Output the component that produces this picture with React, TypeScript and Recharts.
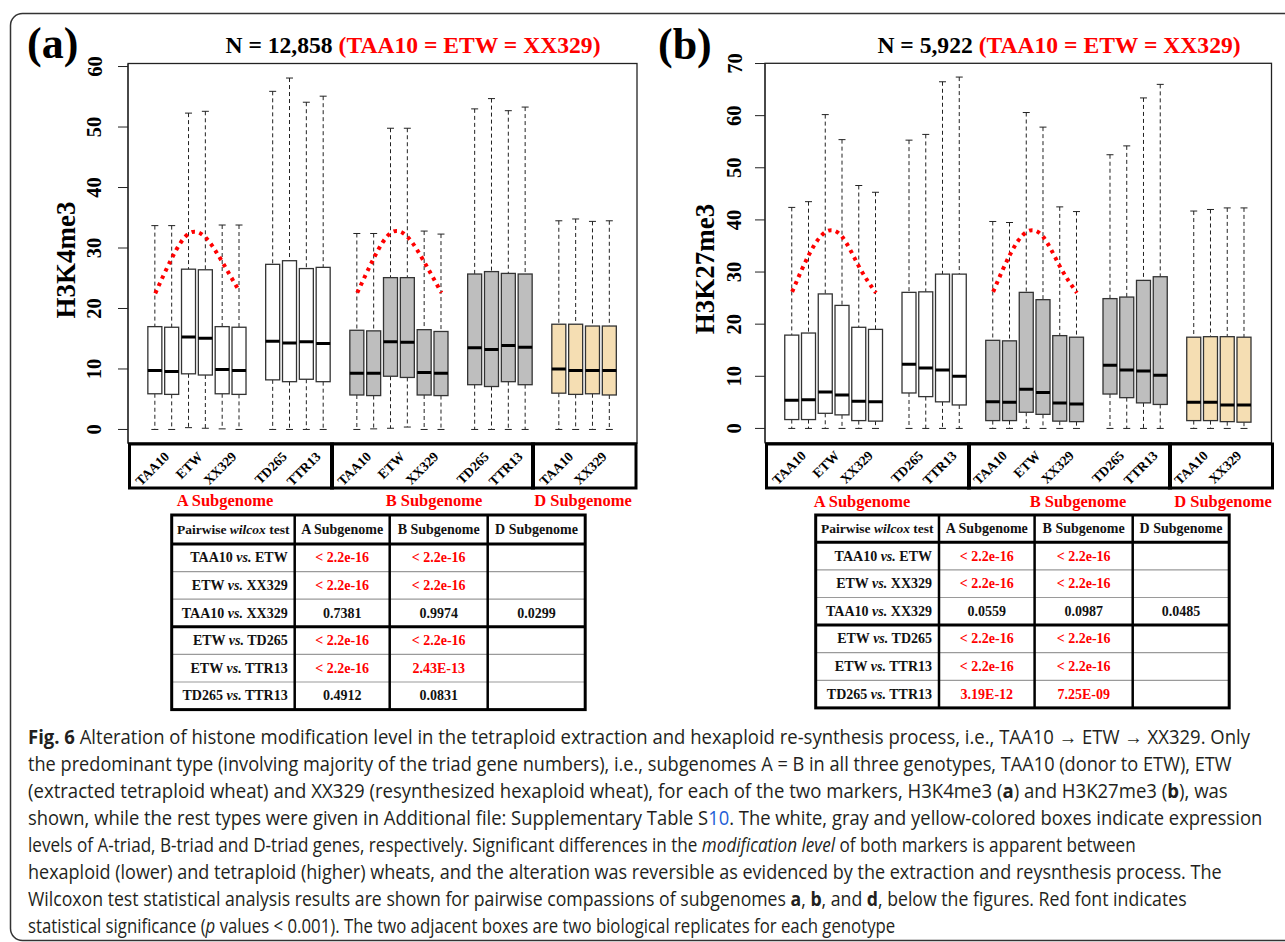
import { ComposedChart, Bar, Line, XAxis, YAxis } from 'recharts';

// R boxplot "at" positions; slots 7, 12, 19 and 24 are left empty between groups
const boxSlots = [1, 2, 3, 4, 5, 6, 8, 9, 10, 11, 13, 14, 15, 16, 17, 18, 20, 21, 22, 23, 25, 26, 27, 28];
const boxSubgenome = [
  'A', 'A', 'A', 'A', 'A', 'A', 'A', 'A', 'A', 'A',
  'B', 'B', 'B', 'B', 'B', 'B', 'B', 'B', 'B', 'B',
  'D', 'D', 'D', 'D',
];
const genotypeCenters = [1.5, 3.5, 5.5, 8.5, 10.5, 13.5, 15.5, 17.5, 20.5, 22.5, 25.5, 27.5];
const genotypeLabels = ['TAA10', 'ETW', 'XX329', 'TD265', 'TTR13', 'TAA10', 'ETW', 'XX329', 'TD265', 'TTR13', 'TAA10', 'XX329'];
const subgenomeNames = ['A Subgenome', 'B Subgenome', 'D Subgenome'];
const arcSlotsA = [1, 2, 3, 4, 5, 6];
const arcSlotsB = [13, 14, 15, 16, 17, 18];

// (a) H3K4me3
const k4Hi = [33.7, 33.7, 52.3, 52.6, 33.8, 33.8, 55.9, 58.1, 54.1, 55.1, 32.4, 32.4, 49.8, 49.8, 32.8, 32.3, 53.0, 54.7, 52.7, 53.3, 34.5, 34.8, 34.4, 34.5];
const k4Q3 = [17.0, 16.9, 26.5, 26.4, 17.0, 16.9, 27.3, 27.9, 26.6, 26.8, 16.4, 16.3, 25.1, 25.1, 16.5, 16.2, 25.7, 26.1, 25.8, 25.7, 17.4, 17.4, 17.1, 17.1];
const k4Med = [9.75, 9.6, 15.3, 15.1, 9.9, 9.75, 14.6, 14.3, 14.5, 14.2, 9.3, 9.3, 14.5, 14.4, 9.4, 9.3, 13.5, 13.2, 13.9, 13.6, 10.0, 9.75, 9.75, 9.75];
const k4Q1 = [5.9, 5.8, 9.2, 9.0, 5.9, 5.8, 8.2, 7.9, 8.3, 7.9, 5.7, 5.6, 8.8, 8.6, 5.7, 5.6, 7.4, 7.1, 7.9, 7.4, 6.0, 5.8, 5.9, 5.7];
const k4Lo = [0, 0, 0.3, 0.2, 0.1, 0, 0, 0, 0, 0, 0, 0.1, 0.2, 0.4, 0, 0, 0, 0, 0, 0, 0, 0, 0, 0];
const k4ArcA = [22.5, 28.4, 32.4, 31.7, 27.6, 22.8];
const k4ArcB = [22.6, 28.4, 32.5, 31.8, 27.6, 22.6];
const k4Ticks = [0, 10, 20, 30, 40, 50, 60];

// (b) H3K27me3
const k27Hi = [42.4, 43.5, 60.2, 55.4, 46.6, 45.3, 55.3, 56.4, 66.5, 67.4, 39.7, 39.5, 60.6, 57.8, 42.5, 41.6, 52.5, 54.2, 63.4, 66.0, 41.7, 42.0, 42.3, 42.3];
const k27Q3 = [17.9, 18.3, 25.8, 23.6, 19.4, 19.0, 26.1, 26.2, 29.6, 29.6, 16.9, 16.8, 26.1, 24.7, 17.8, 17.5, 24.9, 25.2, 28.4, 29.1, 17.5, 17.6, 17.6, 17.5];
const k27Med = [5.4, 5.5, 7.0, 6.4, 5.2, 5.1, 12.3, 11.6, 11.2, 10.0, 5.1, 5.0, 7.5, 6.9, 4.9, 4.7, 12.1, 11.2, 11.0, 10.2, 5.0, 5.0, 4.5, 4.5];
const k27Q1 = [1.7, 1.7, 2.9, 2.6, 1.5, 1.4, 6.8, 6.1, 5.1, 4.5, 1.5, 1.5, 3.1, 2.7, 1.4, 1.3, 6.6, 5.9, 4.9, 4.6, 1.5, 1.5, 1.3, 1.2];
const k27Lo = [0, 0, 0, 0, 0, 0, 0, 0, 0, 0, 0, 0, 0, 0, 0, 0, 0, 0, 0, 0, 0, 0, 0, 0];
const k27ArcA = [26.2, 33.3, 37.7, 36.7, 31.0, 26.0];
const k27ArcB = [26.2, 33.3, 37.7, 36.7, 31.0, 26.0];
const k27Ticks = [0, 10, 20, 30, 40, 50, 60, 70];

// pairwise wilcox tables
const comparisons = ['TAA10 vs. ETW', 'ETW vs. XX329', 'TAA10 vs. XX329', 'ETW vs. TD265', 'ETW vs. TTR13', 'TD265 vs. TTR13'];
const k4PA = ['< 2.2e-16', '< 2.2e-16', '0.7381', '< 2.2e-16', '< 2.2e-16', '0.4912'];
const k4PB = ['< 2.2e-16', '< 2.2e-16', '0.9974', '< 2.2e-16', '2.43E-13', '0.0831'];
const k4PD = ['', '', '0.0299', '', '', ''];
const k27PA = ['< 2.2e-16', '< 2.2e-16', '0.0559', '< 2.2e-16', '< 2.2e-16', '3.19E-12'];
const k27PB = ['< 2.2e-16', '< 2.2e-16', '0.0987', '< 2.2e-16', '< 2.2e-16', '7.25E-09'];
const k27PD = ['', '', '0.0485', '', '', ''];

const SERIF = "'Liberation Serif', 'Times New Roman', serif";
const RED = '#ff0000';
const subFill: Record<string, string> = { A: '#ffffff', B: '#bebebe', D: '#f5deb3' };

const Y_W = 60;
const X_H = 50;
const PAD_T = 10;
const PAD_R = 5;
const PAD_B = 5;

function BoxShape(props: any) {
  const { x, y, width, height, payload } = props;
  const { lo, q1, med, q3, hi, sub } = payload;
  const top = Math.min(y, y + height);
  const bottom = Math.max(y, y + height);
  // range bar spans [lo, hi]; place the quartiles on the same scale
  const toY = (v: number) => top + ((hi - v) / (hi - lo)) * (bottom - top);
  const cx = x + width / 2;
  const cap = width / 4;
  return (
    <g>
      <line x1={cx} x2={cx} y1={toY(hi)} y2={toY(q3)} stroke="#222" strokeDasharray="4 3" />
      <line x1={cx} x2={cx} y1={toY(q1)} y2={toY(lo)} stroke="#222" strokeDasharray="4 3" />
      <line x1={cx - cap} x2={cx + cap} y1={toY(hi)} y2={toY(hi)} stroke="#222" />
      <line x1={cx - cap} x2={cx + cap} y1={toY(lo)} y2={toY(lo)} stroke="#222" />
      <rect x={x} y={toY(q3)} width={width} height={toY(q1) - toY(q3)} fill={subFill[sub]} stroke="#333" strokeWidth={1.3} />
      <line x1={x} x2={x + width} y1={toY(med)} y2={toY(med)} stroke="#000" strokeWidth={3} />
    </g>
  );
}

function YTick({ x, y, payload, gap }: any) {
  const bx = x + 10 - gap;
  return (
    <text x={bx} y={y} textAnchor="middle" transform={`rotate(-90 ${bx} ${y})`}
      style={{ fontFamily: SERIF, fontWeight: 700, fontSize: 20.5 }} fill="#000">
      {payload.value}
    </text>
  );
}

function XTick({ x, y, payload }: any) {
  const i = genotypeCenters.indexOf(payload.value);
  const ax = x + 6.3;
  const ay = y + 14;
  return (
    <text x={ax} y={ay} textAnchor="end" transform={`rotate(-45 ${ax} ${ay})`}
      style={{ fontFamily: SERIF, fontWeight: 700, fontSize: 13.5 }} fill="#000">
      {genotypeLabels[i]}
    </text>
  );
}

interface PanelProps {
  hi: number[];
  q3: number[];
  med: number[];
  q1: number[];
  lo: number[];
  arcA: number[];
  arcB: number[];
  ticks: number[];
  domain: [number, number];
  frame: { l: number; r: number; t: number; b: number };
  tickGap: number;
}

function BoxPanel({ hi, q3, med, q1, lo, arcA, arcB, ticks, domain, frame, tickGap }: PanelProps) {
  const rows = boxSlots.map((slot, i) => ({
    slot,
    range: [lo[i], hi[i]],
    lo: lo[i],
    q1: q1[i],
    med: med[i],
    q3: q3[i],
    hi: hi[i],
    sub: boxSubgenome[i],
  }));
  const arcRowsA = arcSlotsA.map((slot, i) => ({ slot, v: arcA[i] }));
  const arcRowsB = arcSlotsB.map((slot, i) => ({ slot, v: arcB[i] }));
  const { l, r, t, b } = frame;
  return (
    <div style={{ position: 'absolute', left: l - Y_W, top: t - PAD_T }}>
      <ComposedChart
        width={r - l + Y_W + PAD_R}
        height={b - t + PAD_T + X_H + PAD_B}
        data={rows}
        margin={{ top: PAD_T, right: PAD_R, bottom: PAD_B, left: 0 }}
      >
        <XAxis
          type="number"
          dataKey="slot"
          domain={[-0.62, 29.62]}
          allowDataOverflow
          ticks={genotypeCenters}
          interval={0}
          height={X_H}
          tickSize={0}
          tickMargin={0}
          axisLine={false}
          tickLine={false}
          tick={(p: any) => <XTick {...p} />}
        />
        <YAxis
          type="number"
          domain={domain}
          allowDataOverflow
          ticks={ticks}
          interval={0}
          width={Y_W}
          tickSize={10}
          tickMargin={0}
          axisLine={{ stroke: '#222' }}
          tickLine={{ stroke: '#222' }}
          tick={(p: any) => <YTick {...p} gap={tickGap} />}
        />
        <Bar dataKey="range" barSize={14} shape={(p: any) => <BoxShape {...p} />} isAnimationActive={false} />
        <Line data={arcRowsA} dataKey="v" type="natural" stroke={RED} strokeWidth={4} strokeDasharray="3.5 4.5" dot={false} isAnimationActive={false} />
        <Line data={arcRowsB} dataKey="v" type="natural" stroke={RED} strokeWidth={4} strokeDasharray="3.5 4.5" dot={false} isAnimationActive={false} />
      </ComposedChart>
    </div>
  );
}

const isSig = (v: string) => v !== '' && parseFloat(v.replace('<', '').trim()) < 0.001;

function PTable({ x, y, colW, headH, rowH, pA, pB, pD }: any) {
  const cols = [x];
  colW.forEach((w: number) => cols.push(cols[cols.length - 1] + w));
  const ys = [y, y + headH];
  comparisons.forEach(() => ys.push(ys[ys.length - 1] + rowH));
  const right = cols[cols.length - 1];
  const bottom = ys[ys.length - 1];
  const cols3 = [pA, pB, pD];
  return (
    <g fontFamily={SERIF} fontWeight="bold" fontSize={14}>
      <rect x={x} y={y} width={right - x} height={bottom - y} fill="#fff" />
      {[2, 3, 5, 6].map((k) => (
        <line key={k} x1={x} x2={right} y1={ys[k]} y2={ys[k]} stroke="#9a9a9a" strokeWidth={1.2} />
      ))}
      {[1, 4].map((k) => (
        <line key={k} x1={x} x2={right} y1={ys[k]} y2={ys[k]} stroke="#000" strokeWidth={3} />
      ))}
      {[1, 2, 3].map((k) => (
        <line key={k} x1={cols[k]} x2={cols[k]} y1={y} y2={bottom} stroke="#000" strokeWidth={2.5} />
      ))}
      <rect x={x} y={y} width={right - x} height={bottom - y} fill="none" stroke="#000" strokeWidth={3} />
      <text x={(cols[0] + cols[1]) / 2} y={(ys[0] + ys[1]) / 2 + 4.5} textAnchor="middle" fill="#111" fontSize={13.5}>
        {'Pairwise '}<tspan fontStyle="italic">wilcox</tspan>{' test'}
      </text>
      {subgenomeNames.map((s, k) => (
        <text key={s} x={(cols[k + 1] + cols[k + 2]) / 2} y={(ys[0] + ys[1]) / 2 + 4.5} textAnchor="middle" fill="#111">
          {s}
        </text>
      ))}
      {comparisons.map((c, i) => {
        const [a, bb] = c.split(' vs. ');
        const cy = (ys[i + 1] + ys[i + 2]) / 2 + 4.5;
        return (
          <g key={c}>
            <text x={cols[1] - 7} y={cy} textAnchor="end" fill="#111">
              {a + ' '}<tspan fontStyle="italic">vs.</tspan>{' ' + bb}
            </text>
            {cols3.map((col: string[], k: number) => (
              <text key={k} x={(cols[k + 1] + cols[k + 2]) / 2} y={cy} textAnchor="middle" fill={isSig(col[i]) ? RED : '#111'}>
                {col[i]}
              </text>
            ))}
          </g>
        );
      })}
    </g>
  );
}

type Seg = { t: string; b?: boolean; i?: boolean; blue?: boolean };
const captionLines: Seg[][] = [
  [{ t: 'Fig. 6', b: true }, { t: ' Alteration of histone modification level in the tetraploid extraction and hexaploid re-synthesis process, i.e., TAA10 \u2192 ETW \u2192 XX329. Only' }],
  [{ t: 'the predominant type (involving majority of the triad gene numbers), i.e., subgenomes A = B in all three genotypes, TAA10 (donor to ETW), ETW' }],
  [{ t: '(extracted tetraploid wheat) and XX329 (resynthesized hexaploid wheat), for each of the two markers, H3K4me3 (' }, { t: 'a', b: true }, { t: ') and H3K27me3 (' }, { t: 'b', b: true }, { t: '), was' }],
  [{ t: 'shown, while the rest types were given in Additional file: Supplementary Table S' }, { t: '10', blue: true }, { t: '. The white, gray and yellow-colored boxes indicate expression' }],
  [{ t: 'levels of A-triad, B-triad and D-triad genes, respectively. Significant differences in the ' }, { t: 'modification level', i: true }, { t: ' of both markers is apparent between' }],
  [{ t: 'hexaploid (lower) and tetraploid (higher) wheats, and the alteration was reversible as evidenced by the extraction and reysnthesis process. The' }],
  [{ t: 'Wilcoxon test statistical analysis results are shown for pairwise compassions of subgenomes ' }, { t: 'a', b: true }, { t: ', ' }, { t: 'b', b: true }, { t: ', and ' }, { t: 'd', b: true }, { t: ', below the figures. Red font indicates' }],
  [{ t: 'statistical significance (' }, { t: 'p', i: true }, { t: ' values < 0.001). The two adjacent boxes are two biological replicates for each genotype' }],
];
// right edge of each wrapped caption line
const captionLineEnds = [1250, 1232, 1228, 1262, 1136, 1222, 1187, 895];
const CAP_LEFT = 28;

function CaptionLine({ segs, top, end }: { segs: Seg[]; top: number; end: number }) {
  // squeeze the line horizontally to the condensed width of the journal font
  const fit = (el: HTMLDivElement | null) => {
    if (!el) return;
    el.style.transform = 'none';
    const w = el.offsetWidth;
    if (w > 0) el.style.transform = `scaleX(${(end - CAP_LEFT) / w})`;
  };
  return (
    <div
      ref={fit}
      style={{
        position: 'absolute',
        left: CAP_LEFT,
        top,
        width: 'max-content',
        whiteSpace: 'nowrap',
        transformOrigin: '0 0',
        fontFamily: "'Open Sans', 'Noto Sans', sans-serif",
        fontSize: 19.5,
        lineHeight: '27px',
        color: '#231f20',
      }}
    >
      {segs.map((s, k) => (
        <span key={k} style={{ fontWeight: s.b ? 700 : 400, fontStyle: s.i ? 'italic' : 'normal', color: s.blue ? '#1f5fd6' : undefined }}>
          {s.t}
        </span>
      ))}
    </div>
  );
}

function PanelText({ letter, lx, ly, title, tx, yLabel, yx, yy, subX, subY, boxes }: any) {
  return (
    <g fontFamily={SERIF} fontWeight="bold">
      <text x={lx} y={ly} fontSize={44} fill="#000">{letter}</text>
      <text x={tx} y={53} textAnchor="middle" fontSize={23.6} fill="#000">
        {title}<tspan fill={RED}>(TAA10 = ETW = XX329)</tspan>
      </text>
      <text x={yx} y={yy} textAnchor="middle" fontSize={27} fill="#000" transform={`rotate(-90 ${yx} ${yy})`}>
        {yLabel}
      </text>
      {boxes.map((bx: number[], k: number) => (
        <rect key={k} x={bx[0]} y={bx[2]} width={bx[1] - bx[0]} height={bx[3] - bx[2]} fill="none" stroke="#000" strokeWidth={3} />
      ))}
      {subgenomeNames.map((s, k) => (
        <text key={s} x={subX[k]} y={subY} textAnchor="middle" fontSize={16.5} fill={RED}>{s}</text>
      ))}
    </g>
  );
}

const frameA = { l: 128, r: 637, t: 63.5, b: 443 };
const frameB = { l: 765, r: 1271.5, t: 63.3, b: 442.8 };

export default function App() {
  return (
    <div style={{ position: 'absolute', left: 0, top: 0, width: 1285, height: 942, overflow: 'hidden', background: '#fff' }}>
      <BoxPanel hi={k4Hi} q3={k4Q3} med={k4Med} q1={k4Q1} lo={k4Lo} arcA={k4ArcA} arcB={k4ArcB}
        ticks={k4Ticks} domain={[-2.32, 60.42]} frame={frameA} tickGap={26.5} />
      <BoxPanel hi={k27Hi} q3={k27Q3} med={k27Med} q1={k27Q1} lo={k27Lo} arcA={k27ArcA} arcB={k27ArcB}
        ticks={k27Ticks} domain={[-2.7, 70.1]} frame={frameB} tickGap={23.5} />
      <svg width={1285} height={942} style={{ position: 'absolute', left: 0, top: 0, pointerEvents: 'none' }}>
        <rect x={10.5} y={13.5} width={1300} height={927} rx={12} fill="none" stroke="#333" strokeWidth={1.5} />
        <rect x={frameA.l} y={frameA.t} width={frameA.r - frameA.l} height={frameA.b - frameA.t} fill="none" stroke="#222" strokeWidth={1.3} />
        <rect x={frameB.l} y={frameB.t} width={frameB.r - frameB.l} height={frameB.b - frameB.t} fill="none" stroke="#222" strokeWidth={1.3} />
        <PanelText letter="(a)" lx={27} ly={58} title="N = 12,858 " tx={413} yLabel="H3K4me3" yx={75} yy={260}
          subX={[225, 434, 583]} subY={505.5}
          boxes={[[129.5, 332.5, 444, 488], [331.5, 533.5, 444, 488], [532.5, 636, 444, 488]]} />
        <PanelText letter="(b)" lx={658} ly={59} title="N = 5,922 " tx={1059} yLabel="H3K27me3" yx={714} yy={269}
          subX={[862, 1078, 1223]} subY={507}
          boxes={[[766.5, 969.5, 444, 488], [968.5, 1170.5, 444, 488], [1169.5, 1272.5, 444, 488]]} />
        <PTable x={171.7} y={515} colW={[123, 95, 98, 97.5]} headH={29} rowH={27.6} pA={k4PA} pB={k4PB} pD={k4PD} />
        <PTable x={815.7} y={515} colW={[123.3, 95.6, 98.1, 96.5]} headH={27.3} rowH={27.6} pA={k27PA} pB={k27PB} pD={k27PD} />
      </svg>
      {captionLines.map((line, i) => (
        <CaptionLine key={i} segs={line} top={723 + 27 * i} end={captionLineEnds[i]} />
      ))}
    </div>
  );
}
